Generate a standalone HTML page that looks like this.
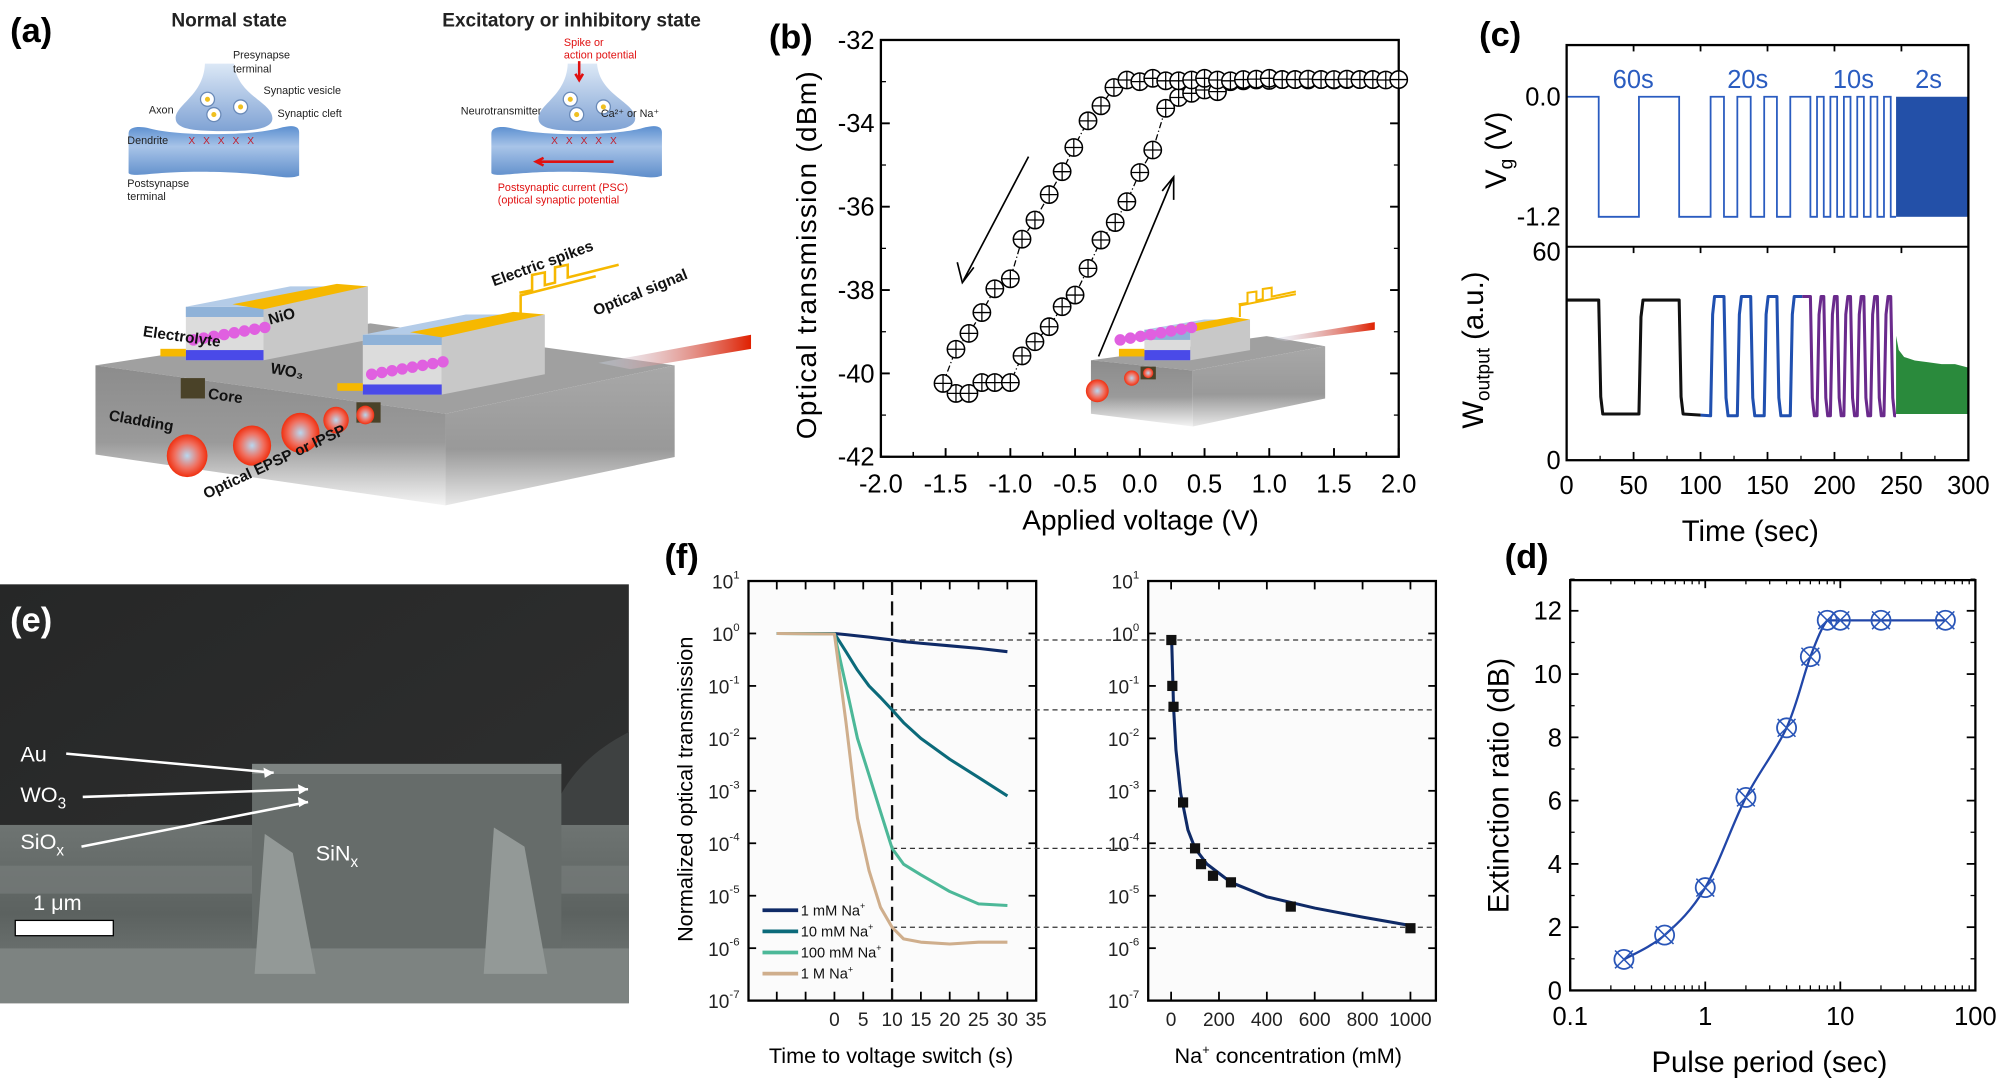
<!DOCTYPE html>
<html><head><meta charset="utf-8"><style>
html,body{margin:0;padding:0;background:#fff;}
svg{display:block;font-family:"Liberation Sans",sans-serif;}
</style></head><body>
<svg id="fig" xmlns="http://www.w3.org/2000/svg" width="1996" height="1084" viewBox="0 0 1568 851.5" preserveAspectRatio="none">
<defs>
<radialGradient id="spot" cx="50%" cy="50%" r="50%"><stop offset="0" stop-color="#b8d8f0"/><stop offset="0.6" stop-color="#f07060"/><stop offset="1" stop-color="#f03010"/></radialGradient>
<linearGradient id="beam" x1="0" x2="1"><stop offset="0" stop-color="#d0e4f8" stop-opacity="0.3"/><stop offset="1" stop-color="#e02000"/></linearGradient>
<linearGradient id="slabL" x1="0" y1="0" x2="0" y2="1"><stop offset="0" stop-color="#8c8c8c"/><stop offset="0.55" stop-color="#9a9a9a"/><stop offset="1" stop-color="#f4f4f4"/></linearGradient>
<linearGradient id="slabR" x1="0" y1="0" x2="0" y2="1"><stop offset="0" stop-color="#a8a8a8"/><stop offset="0.6" stop-color="#999"/><stop offset="1" stop-color="#e8e8e8"/></linearGradient>
<linearGradient id="syn" x1="0" y1="0" x2="0" y2="1"><stop offset="0" stop-color="#dce8f6"/><stop offset="1" stop-color="#7fa2d4"/></linearGradient>
<linearGradient id="post" x1="0" y1="0" x2="0" y2="1"><stop offset="0" stop-color="#5b8fd0"/><stop offset="0.4" stop-color="#a8c4e8"/><stop offset="1" stop-color="#5f8ecb"/></linearGradient>
<linearGradient id="sem" x1="0" y1="0" x2="0" y2="1"><stop offset="0" stop-color="#6e7472"/><stop offset="0.5" stop-color="#5c6260"/><stop offset="1" stop-color="#7a807e"/></linearGradient>
<linearGradient id="semtop" x1="0" y1="0" x2="1" y2="1"><stop offset="0" stop-color="#262727"/><stop offset="1" stop-color="#303131"/></linearGradient>
</defs>
<g id="pa"></g>
<g id="pb"></g>
<g id="pc"></g>
<g id="pd"></g>
<g id="pe"></g>
<g id="pf"></g>
</svg>
<script>
// ---------- data ----------
const bDownV = [-1.52,-1.42,-1.32,-1.22,-1.12,-1.0,-0.91,-0.81,-0.70,-0.60,-0.51,-0.40,-0.30,-0.20,-0.10,0.0,0.1,0.2,0.3,0.4,0.5,0.6,0.7,0.8,0.9,1.0,1.1,1.2,1.3,1.4,1.5,1.6,1.7,1.8,1.9,2.0];
const bDownT = [-40.24,-39.42,-39.04,-38.54,-37.97,-37.73,-36.78,-36.32,-35.71,-35.16,-34.58,-33.94,-33.58,-33.14,-32.96,-33.0,-32.92,-32.98,-32.98,-32.96,-32.92,-32.96,-32.98,-32.95,-32.94,-32.92,-32.95,-32.95,-32.94,-32.95,-32.95,-32.94,-32.95,-32.95,-32.96,-32.95];
const bUpV = [-1.42,-1.32,-1.22,-1.12,-1.0,-0.91,-0.81,-0.70,-0.60,-0.50,-0.40,-0.30,-0.19,-0.10,0.0,0.1,0.2,0.3,0.4,0.5,0.6,0.7,0.8,0.9,1.0,1.1,1.2,1.3,1.4,1.5,1.6,1.7,1.8];
const bUpT = [-40.48,-40.48,-40.22,-40.22,-40.22,-39.58,-39.24,-38.88,-38.4,-38.12,-37.48,-36.8,-36.38,-35.88,-35.18,-34.64,-33.64,-33.38,-33.28,-33.2,-33.24,-33.0,-32.98,-32.96,-32.97,-32.95,-32.95,-32.96,-32.95,-32.96,-32.95,-32.95,-32.95];
const bXTicks = ["-2.0","-1.5","-1.0","-0.5","0.0","0.5","1.0","1.5","2.0"];
const bYTicks = ["-42","-40","-38","-36","-34","-32"];

const cVgToggles = [24,54,84,107.5,117.5,127.5,137.5,147.5,157,167,182,187,192,197,202,207,212,217,222,227,232,237,242];
const cDenseStart = 246, cEnd = 300;
const cWHigh = [45,46,46,46], cWLow = [13,12.5,12.5,12.5];
const cColorBreaks = [0,100,176,246];
const cColors = ["#111111","#2050b0","#6a2a8c","#2a8a3c"];
const cGreenTopT = [246,248,252,260,270,280,290,300];
const cGreenTop = [35,31,29,28,27.5,27,27,26];
const cGreenBottom = 13;
const cXTicks = ["0","50","100","150","200","250","300"];
const cPeriodLabels = ["60s","20s","10s","2s"];

const dPeriod = [0.25,0.5,1,2,4,6,8,10,20,60];
const dRatio = [0.98,1.75,3.25,6.1,8.3,10.55,11.7,11.7,11.7,11.7];
const dYTicks = ["0","2","4","6","8","10","12"];
const dXTicks = ["0.1","1","10","100"];

const fTime = [-10,0,2,4,6,8,10,12,15,20,25,30];
const f1mM = [1,1,0.95,0.9,0.85,0.8,0.75,0.7,0.65,0.58,0.52,0.45];
const f10mM = [1,1,0.45,0.2,0.1,0.06,0.035,0.02,0.01,0.004,0.0018,0.0008];
const f100mM = [1,0.98,0.1,0.01,0.002,0.0004,0.00008,0.00004,0.000025,0.000012,0.000007,0.0000065];
const f1M = [1,0.98,0.02,0.0003,0.00003,0.000006,0.0000025,0.0000015,0.0000013,0.0000012,0.0000013,0.0000013];
const fSeriesNames = ["1 mM Na","10 mM Na","100 mM Na","1 M Na"];
const fSeriesColors = ["#0f2a66","#0b6a7a","#4cb898","#cfae8c"];
const fConc = [1,5,10,50,100,125,175,250,500,1000];
const fConcVal = [0.75,0.1,0.04,0.0006,0.00008,0.00004,0.000024,0.000018,0.0000062,0.0000024];
const fFitConc = [2,5,10,20,40,70,100,150,250,400,600,800,1000];
const fFitVal = [0.8,0.3,0.04,0.006,0.0009,0.00018,0.00008,0.00004,0.000018,0.0000095,0.0000058,0.0000039,0.0000027];
const fGuideVal = [0.75,0.035,0.00008,0.0000025];
const fXTicksL = ["0","5","10","15","20","25","30","35"];
const fXTicksR = ["0","200","400","600","800","1000"];

// ---------- helpers ----------
const NS = "http://www.w3.org/2000/svg";
function mk(parent, tag, attrs, text){
  const e = document.createElementNS(NS, tag);
  for (const k in attrs) e.setAttribute(k, attrs[k]);
  if (text !== undefined) e.textContent = text;
  parent.appendChild(e);
  return e;
}
function lin(d0,d1,r0,r1){return v => r0 + (v-d0)/(d1-d0)*(r1-r0);}
function logs(d0,d1,r0,r1){return v => r0 + (Math.log10(v)-Math.log10(d0))/(Math.log10(d1)-Math.log10(d0))*(r1-r0);}
let el;

// ================= PANEL A =================
const A = document.getElementById('pa');
el = mk(A,'text',{x:8,y:33,'font-size':27,'font-weight':'bold'},'(a)');
 
el = mk(A,'text',{x:180,y:21,'font-size':15,'text-anchor':'middle','font-weight':'bold',fill:'#222'},'Normal state');
 
el = mk(A,'text',{x:449,y:21,'font-size':15,'text-anchor':'middle','font-weight':'bold',fill:'#222'},'Excitatory or inhibitory state');
 
[0,285].forEach((dx,i)=>{
  const g = mk(A,'g',{transform:`translate(${dx},0)`});
  
  
  el = mk(g,'path',{d:'M101,105 C101,99 110,99 118,101 C140,107 200,107 222,100 C230,98 235,99 235,104 L235,138 C225,142 215,136 168,135 C120,134 105,140 101,136Z',fill:'url(#post)'});
   
  el = mk(g,'path',{d:'M161,50 L184,50 C186,75 214,80 214,93 C214,101 200,103 176,103 C150,103 138,101 138,93 C138,82 160,75 161,50Z',fill:'url(#syn)'});
   
  [[163,78],[168,90],[189,84]].forEach(p=>{
    el = mk(g,'circle',{cx:p[0],cy:p[1],r:5.5,fill:'#fff',stroke:'#6a8ab8','stroke-width':1});
     
    mk(g,'circle',{cx:p[0],cy:p[1],r:2,fill:'#f0c020'});
  });
  el = mk(g,'text',{x:148,y:113,'font-size':8,fill:'#c02030','letter-spacing':2},'X X X X X');
   
});
const aLabels = [[183,46,'Presynapse'],[183,57,'terminal'],[207,74,'Synaptic vesicle'],[117,89,'Axon'],[218,92,'Synaptic cleft'],[100,113,'Dendrite'],[100,147,'Postsynapse'],[100,157,'terminal'],[362,90,'Neurotransmitter'],[472,92,'Ca²⁺ or Na⁺']];
aLabels.forEach(l=>{el = mk(A,'text',{x:l[0],y:l[1],'font-size':8.5,fill:'#222'},l[2]);
   });
[[443,36,'Spike or'],[443,46,'action potential'],[391,150,'Postsynaptic current (PSC)'],[391,160,'(optical synaptic potential']].forEach(l=>{
  el = mk(A,'text',{x:l[0],y:l[1],'font-size':8.5,fill:'#e01010'},l[2]);
   });
el = mk(A,'path',{d:'M455,48 L455,62 M452,58 L455,63 L458,58 M482,127 L422,127 M427,124 L421,127 L427,130',stroke:'#e01010','stroke-width':2,fill:'none'});
 
// slab
el = mk(A,'polygon',{points:'75,287 291,254 530,287 350,325',fill:'#a0a0a0'});
 
el = mk(A,'polygon',{points:'75,287 350,325 350,397 75,357',fill:'url(#slabL)'});
 
el = mk(A,'polygon',{points:'350,325 530,287 530,359 350,397',fill:'url(#slabR)'});
 
el = mk(A,'polygon',{points:'470,285 590,263 590,274 495,290',fill:'url(#beam)'});
 
el = mk(A,'rect',{x:142,y:297,width:19,height:16,fill:'#4a4228'});
 
el = mk(A,'rect',{x:280,y:316,width:19,height:16,fill:'#4a4228'});
 
[[147,358,16],[198,350,15],[236,340,15],[264,330,10],[287,326,7]].forEach(c=>{
  el = mk(A,'ellipse',{cx:c[0],cy:c[1],rx:c[2],ry:c[2]*1.05,fill:'url(#spot)'});
   });
function block(g,x0,x1,yt,yb,dx,dy){
  mk(g,'polygon',{points:`${x1},${yt} ${x1+dx},${yt-dy} ${x1+dx},${yb-dy} ${x1},${yb}`,fill:'#c8c8c8'});
  mk(g,'rect',{x:x0,y:yt,width:x1-x0,height:yb-yt,fill:'#dcdcdc'});
  mk(g,'rect',{x:x0,y:yt,width:x1-x0,height:8,fill:'#8fb2d8'});
  mk(g,'rect',{x:x0,y:yb-8,width:x1-x0,height:8,fill:'#4a4ae8'});
  mk(g,'polygon',{points:`${x0},${yt} ${x0+dx},${yt-dy} ${x1+dx},${yt-dy} ${x1},${yt}`,fill:'#b4cce8'});
  mk(g,'polygon',{points:`${x0+(x1-x0)*0.6},${yt-2} ${x0+(x1-x0)*0.6+dx},${yt-dy-2} ${x1+dx},${yt-dy} ${x1},${yt+2}`,fill:'#f6b800'});
  mk(g,'rect',{x:x0-20,y:yb-9,width:20,height:6,fill:'#f6b800'});
  for(let k=0;k<8;k++){mk(g,'circle',{cx:x1-55+k*8,cy:yb-16-k*1.4,r:4.5,fill:'#e060e0'});}
}
el = mk(A,'g',{});  
block(el,146,207,241,283,82,16);
el = mk(A,'g',{});  
block(el,285,347,263,310,81,16);
el = mk(A,'path',{d:'M409,248 L409,232 L468,217 M408,230 L418,228 L418,216 L428,214 L428,224 L436,222 L436,210 L446,208 L446,218 L486,208',stroke:'#f6b800','stroke-width':2,fill:'none'});
 
[[112,264,8,'Electrolyte'],[212,255,-15,'NiO'],[212,293,10,'WO₃'],[163,313,8,'Core'],[85,330,10,'Cladding'],[388,225,-20,'Electric spikes'],[468,248,-22,'Optical signal'],[162,392,-25,'Optical EPSP or IPSP']].forEach(t=>{
  el = mk(A,'text',{x:t[0],y:t[1],'font-size':12,transform:`rotate(${t[2]} ${t[0]} ${t[1]})`,fill:'#111','font-weight':'bold'},t[3]);
   });

// ================= PANEL B =================
const B = document.getElementById('pb');
const bx = lin(-2,2,692,1098.8), by = lin(-42,-32,358.8,31.4);
el = mk(B,'text',{x:604,y:38,'font-size':27,'font-weight':'bold'},'(b)');
 
el = mk(B,'rect',{x:692,y:31.4,width:406.8,height:327.4,fill:'none',stroke:'#000','stroke-width':1.8});
 
bXTicks.forEach((t,i)=>{const v=parseFloat(t),x=bx(v);
  mk(B,'line',{x1:x,x2:x,y1:358.8,y2:352,stroke:'#000','stroke-width':1.5});
  if(i<bXTicks.length-1){const xm=bx(v+0.25);mk(B,'line',{x1:xm,x2:xm,y1:358.8,y2:355,stroke:'#000','stroke-width':1.2});}
  el = mk(B,'text',{x:x,y:387,'font-size':20,'text-anchor':'middle'},t);
   });
bYTicks.forEach((t,i)=>{const v=parseFloat(t),y=by(v);
  mk(B,'line',{x1:692,x2:699,y1:y,y2:y,stroke:'#000','stroke-width':1.5});
  mk(B,'line',{x1:1098.8,x2:1092,y1:y,y2:y,stroke:'#000','stroke-width':1.5});
  if(i<bYTicks.length-1){const ym=by(v+1);mk(B,'line',{x1:692,x2:696,y1:ym,y2:ym,stroke:'#000'});mk(B,'line',{x1:1098.8,x2:1095,y1:ym,y2:ym,stroke:'#000'});}
  el = mk(B,'text',{x:687,y:y+7,'font-size':20,'text-anchor':'end'},t);
   });
el = mk(B,'text',{x:896,y:416,'font-size':22,'text-anchor':'middle'},'Applied voltage (V)');
 
el = mk(B,'text',{x:641,y:200,'font-size':22,'text-anchor':'middle',transform:'rotate(-90 641 200)','letter-spacing':1},'Optical transmission (dBm)');
 
el = mk(B,'g',{});  
mk(el,'polygon',{points:'857,283 995,264 1041,272 937,291',fill:'#a0a0a0'});
mk(el,'polygon',{points:'857,283 937,291 937,335 857,325',fill:'url(#slabL)'});
mk(el,'polygon',{points:'937,291 1041,272 1041,313 937,335',fill:'url(#slabR)'});
mk(el,'polygon',{points:'1000,266 1080,253 1080,259 1010,268',fill:'url(#beam)'});
block(el,899,935,259,283,47,8);
mk(el,'path',{d:'M974,249 L974,240 L1018,231 M973,239 L980,238 L980,230 L987,229 L987,236 L992,235 L992,227 L999,226 L999,233 L1018,229',stroke:'#f6b800','stroke-width':1.6,fill:'none'});
mk(el,'circle',{cx:862,cy:307,r:9,fill:'url(#spot)'});
mk(el,'circle',{cx:889,cy:297,r:6,fill:'url(#spot)'});
mk(el,'rect',{x:896,y:288,width:12,height:10,fill:'#4a4228'});
mk(el,'circle',{cx:902,cy:293,r:4,fill:'url(#spot)'});
function drawB(V,T,name){
  let d=''; V.forEach((v,i)=>{d+=(i?'L':'M')+bx(v).toFixed(1)+','+by(T[i]).toFixed(1);});
  el = mk(B,'path',{d:d,fill:'none',stroke:'#000','stroke-width':1,'stroke-dasharray':'5 2 1 2'});
   
  V.forEach((v,i)=>{const x=bx(v),y=by(T[i]);
    const g = mk(B,'g',{});
     
    mk(g,'circle',{cx:x,cy:y,r:6.8,fill:'#fff',stroke:'#000','stroke-width':1.2});
    mk(g,'path',{d:`M${x-6.8},${y}H${x+6.8}M${x},${y-6.8}V${y+6.8}`,stroke:'#000','stroke-width':1});});
}
drawB(bUpV,bUpT,'forward-sweep');
drawB(bDownV,bDownT,'reverse-sweep');
el = mk(B,'path',{d:'M808,123 L757,220 M752,206 L756,222 L765,210 M863,280 L921,141 M913,150 L922,139 L922,157',stroke:'#000','stroke-width':1.3,fill:'none'});
 

// ================= PANEL C =================
const C = document.getElementById('pc');
const cx = lin(0,300,1230.7,1546.3), cvy = lin(-1.2,0,170.3,76), cwy = lin(0,60,361.5,193.8);
el = mk(C,'text',{x:1162,y:36,'font-size':27,'font-weight':'bold'},'(c)');
 
let state=0, d='M'+cx(0)+','+cvy(0);
cVgToggles.forEach(t=>{d+='H'+cx(t).toFixed(1); state = state===0?-1.2:0; d+='V'+cvy(state).toFixed(1);});
d+='H'+cx(cDenseStart).toFixed(1);
el = mk(C,'path',{d:d,fill:'none',stroke:'#2a5cc0','stroke-width':1.4});
 
el = mk(C,'rect',{x:cx(cDenseStart),y:cvy(0),width:cx(cEnd)-cx(cDenseStart),height:cvy(-1.2)-cvy(0),fill:'#2350a8'});
 
cPeriodLabels.forEach((l,i)=>{
  const tx = [1283,1373,1456,1515][i];
  el = mk(C,'text',{x:tx,y:69,'font-size':20,'text-anchor':'middle',fill:'#2a5cc0'},l);
   });
function segColor(t){let k=0; cColorBreaks.forEach((b,i)=>{if(t>=b)k=i;}); return k;}
let wstate=1, pts=[[0,cWHigh[0]]];
cVgToggles.forEach(t=>{
  const k=segColor(t); const hi=cWHigh[k], lo=cWLow[k];
  const from = wstate?hi:lo, to = wstate?lo:hi;
  pts.push([t,from]); pts.push([t+1.5,(from+to)/2+(to-from)*0.35]); pts.push([t+3,to]);
  wstate=1-wstate;});
pts.push([cDenseStart,cWLow[2]]);
let wd=''; pts.forEach((p,i)=>{wd+=(i?'L':'M')+cx(p[0]).toFixed(1)+','+cwy(p[1]).toFixed(1);});
const defs = document.querySelector('defs');
for(let k=0;k<3;k++){
  const cp = mk(defs,'clipPath',{id:'wclip'+k});
  mk(cp,'rect',{x:cx(cColorBreaks[k]),y:190,width:cx(cColorBreaks[k+1])-cx(cColorBreaks[k]),height:175});
  el = mk(C,'path',{d:wd,fill:'none',stroke:cColors[k],'stroke-width':2.4,'stroke-linejoin':'round','clip-path':`url(#wclip${k})`});
   
}
let gd='M'+cx(cGreenTopT[0])+','+cwy(cGreenBottom);
cGreenTopT.forEach((t,i)=>{gd+='L'+cx(t).toFixed(1)+','+cwy(cGreenTop[i]).toFixed(1);});
gd+='L'+cx(cEnd)+','+cwy(cGreenBottom)+'Z';
el = mk(C,'path',{d:gd,fill:cColors[3]});
 
el = mk(C,'rect',{x:1230.7,y:35.4,width:315.6,height:326.1,fill:'none',stroke:'#000','stroke-width':1.8});
 
el = mk(C,'line',{x1:1230.7,x2:1546.3,y1:193.8,y2:193.8,stroke:'#000','stroke-width':1.6});
 
cXTicks.forEach((t,i)=>{const x=cx(+t);
  [35.4,193.8].forEach(y0=>mk(C,'line',{x1:x,x2:x,y1:y0,y2:y0+5,stroke:'#000','stroke-width':1.4}));
  mk(C,'line',{x1:x,x2:x,y1:361.5,y2:355,stroke:'#000','stroke-width':1.4});
  if(i<cXTicks.length-1){const xm=cx(+t+25);mk(C,'line',{x1:xm,x2:xm,y1:361.5,y2:358,stroke:'#000'});}
  el = mk(C,'text',{x:x,y:388,'font-size':20,'text-anchor':'middle'},t);
   });
[["0.0",cvy(0)],["-1.2",cvy(-1.2)],["60",cwy(60)+4],["0",cwy(0)]].forEach(l=>{
  el = mk(C,'text',{x:1226,y:l[1]+7,'font-size':20,'text-anchor':'end'},l[0]);
   });
el = mk(C,'text',{x:1375,y:425,'font-size':23,'text-anchor':'middle'},'Time (sec)');
 
el = mk(C,'text',{x:1183,y:118,'font-size':23,'text-anchor':'middle',transform:'rotate(-90 1183 118)'});
 
el.innerHTML='V<tspan font-size="15" dy="5">g</tspan><tspan dy="-5"> (V)</tspan>';
el = mk(C,'text',{x:1165,y:275,'font-size':23,'text-anchor':'middle',transform:'rotate(-90 1165 275)'});
 
el.innerHTML='W<tspan font-size="15" dy="5">output</tspan><tspan dy="-5"> (a.u.)</tspan>';

// ================= PANEL D =================
const D = document.getElementById('pd');
const dx = logs(0.1,100,1233.5,1551.8), dy = lin(0,12,778,479.8);
el = mk(D,'text',{x:1182,y:446,'font-size':27,'font-weight':'bold'},'(d)');
 
el = mk(D,'rect',{x:1233.5,y:455.7,width:318.3,height:322.3,fill:'none',stroke:'#000','stroke-width':1.8});
 
dYTicks.forEach((t,i)=>{const y=dy(+t);
  mk(D,'line',{x1:1233.5,x2:1240,y1:y,y2:y,stroke:'#000','stroke-width':1.4});mk(D,'line',{x1:1551.8,x2:1545,y1:y,y2:y,stroke:'#000','stroke-width':1.4});
  const ym=dy(+t+1);mk(D,'line',{x1:1233.5,x2:1237,y1:ym,y2:ym,stroke:'#000'});mk(D,'line',{x1:1551.8,x2:1548,y1:ym,y2:ym,stroke:'#000'});
  el = mk(D,'text',{x:1227,y:y+7,'font-size':20,'text-anchor':'end'},t);
   });
dXTicks.forEach((t,i)=>{const x=dx(+t);
  mk(D,'line',{x1:x,x2:x,y1:778,y2:771,stroke:'#000','stroke-width':1.4});mk(D,'line',{x1:x,x2:x,y1:455.7,y2:462,stroke:'#000','stroke-width':1.4});
  if(i<3)for(let m=2;m<10;m++){const xm=dx(+t*m);mk(D,'line',{x1:xm,x2:xm,y1:778,y2:774,stroke:'#000'});mk(D,'line',{x1:xm,x2:xm,y1:455.7,y2:459,stroke:'#000'});}
  el = mk(D,'text',{x:x,y:805,'font-size':20,'text-anchor':'middle'},t);
   });
el = mk(D,'text',{x:1390,y:842,'font-size':23,'text-anchor':'middle'},'Pulse period (sec)');
 
el = mk(D,'text',{x:1185,y:617,'font-size':23,'text-anchor':'middle',transform:'rotate(-90 1185 617)'},'Extinction ratio (dB)');
 
{ const P = dPeriod.map((p,i)=>[dx(p),dy(dRatio[i])]);
  let dd='M'+P[0][0]+','+P[0][1];
  for(let i=0;i<P.length-1;i++){const p0=P[Math.max(0,i-1)],p1=P[i],p2=P[i+1],p3=P[Math.min(P.length-1,i+2)];
    const c1=[p1[0]+(p2[0]-p0[0])/6,p1[1]+(p2[1]-p0[1])/6], c2=[p2[0]-(p3[0]-p1[0])/6,p2[1]-(p3[1]-p1[1])/6];
    if(i>=6){c1[1]=p1[1];c2[1]=p2[1];}
    dd+=`C${c1[0].toFixed(1)},${c1[1].toFixed(1)} ${c2[0].toFixed(1)},${c2[1].toFixed(1)} ${p2[0].toFixed(1)},${p2[1].toFixed(1)}`;}
  el = mk(D,'path',{d:dd,fill:'none',stroke:'#2146a8','stroke-width':1.8});
   
  P.forEach(p=>{const g=mk(D,'g',{});
     
    mk(g,'circle',{cx:p[0],cy:p[1],r:7.5,fill:'none',stroke:'#2a56b8','stroke-width':1.4});
    mk(g,'path',{d:`M${p[0]-7},${p[1]-7}L${p[0]+7},${p[1]+7}M${p[0]+7},${p[1]-7}L${p[0]-7},${p[1]+7}`,stroke:'#2a56b8','stroke-width':1.2});});
}

// ================= PANEL E =================
const E = document.getElementById('pe');
el = mk(E,'rect',{x:0,y:459,width:494,height:329,fill:'url(#semtop)'});
 
el = mk(E,'path',{d:'M430,648 C440,620 455,595 494,575 L494,648 Z',fill:'#3e4141'});
 
el = mk(E,'rect',{x:0,y:648,width:494,height:140,fill:'url(#sem)'});
 
el = mk(E,'rect',{x:0,y:680,width:494,height:22,fill:'#767c7a',opacity:0.7});
 
el = mk(E,'rect',{x:198,y:602,width:243,height:143,fill:'#666c6a'});
 
el = mk(E,'rect',{x:198,y:600,width:243,height:8,fill:'#7d8381'});
 
el = mk(E,'rect',{x:0,y:745,width:494,height:43,fill:'#7d8381'});
 
[[200,655,238,765],[380,650,420,765]].forEach(r=>{el=mk(E,'polygon',{points:`${r[0]},${r[3]} ${r[0]+8},${r[1]} ${r[2]-8},${r[1]+15} ${r[2]+10},${r[3]}`,fill:'#939997'});
   });
el = mk(E,'text',{x:8,y:496,'font-size':27,'font-weight':'bold',fill:'#fff'},'(e)');
 
[[16,598,'Au'],[16,630,'WO<tspan font-size="12" dy="5">3</tspan>'],[16,667,'SiO<tspan font-size="12" dy="5">x</tspan>'],[248,676,'SiN<tspan font-size="12" dy="5">x</tspan>'],[26,715,'1 μm']].forEach(t=>{
  el = mk(E,'text',{x:t[0],y:t[1],'font-size':17,fill:'#fff'}); el.innerHTML=t[2];
   });
el = mk(E,'rect',{x:12,y:723,width:77,height:12,fill:'#fff',stroke:'#000'});
 
el = mk(E,'path',{d:'M52,592 L215,607 M65,626 L242,620 M64,665 L242,630',stroke:'#fff','stroke-width':2,fill:'none'});
 
[[215,607],[242,620],[242,630]].forEach(a=>{el=mk(E,'polygon',{points:`${a[0]},${a[1]} ${a[0]-8},${a[1]-4} ${a[0]-7},${a[1]+4}`,fill:'#fff'});
   });

// ================= PANEL F =================
const F = document.getElementById('pf');
const fx = lin(0,35,655.5,814), fy = logs(1e-7,10,786,456.4), fxr = lin(0,1000,920,1108);
el = mk(F,'text',{x:522,y:446,'font-size':27,'font-weight':'bold'},'(f)');
 
[[588,814],[902,1128]].forEach((b,j)=>{
  el = mk(F,'rect',{x:b[0],y:456.4,width:b[1]-b[0],height:329.6,fill:'#fbfbfb',stroke:'#000','stroke-width':1.8});
   
  for(let e=-7;e<=1;e++){const y=fy(Math.pow(10,e));
    mk(F,'line',{x1:b[0],x2:b[0]+6,y1:y,y2:y,stroke:'#000','stroke-width':1.4});mk(F,'line',{x1:b[1],x2:b[1]-6,y1:y,y2:y,stroke:'#000','stroke-width':1.4});
    el = mk(F,'text',{x:b[0]-7,y:y+6,'font-size':15,'text-anchor':'end',fill:'#222'});
    el.innerHTML='10<tspan font-size="9" dy="-8">'+e+'</tspan>';
     }
});
fXTicksL.forEach(t=>{const x=fx(+t);
  mk(F,'line',{x1:x,x2:x,y1:786,y2:779,stroke:'#000','stroke-width':1.4});mk(F,'line',{x1:x,x2:x,y1:456.4,y2:463,stroke:'#000','stroke-width':1.4});
  el = mk(F,'text',{x:x,y:806,'font-size':15,'text-anchor':'middle',fill:'#222'},t);
   });
for(let t=-15;t<0;t+=5){const x=fx(t);if(x>590){mk(F,'line',{x1:x,x2:x,y1:786,y2:779,stroke:'#000','stroke-width':1.4});mk(F,'line',{x1:x,x2:x,y1:456.4,y2:463,stroke:'#000','stroke-width':1.4});}}
fXTicksR.forEach(t=>{const x=fxr(+t);
  mk(F,'line',{x1:x,x2:x,y1:786,y2:779,stroke:'#000','stroke-width':1.4});mk(F,'line',{x1:x,x2:x,y1:456.4,y2:463,stroke:'#000','stroke-width':1.4});
  el = mk(F,'text',{x:x,y:806,'font-size':15,'text-anchor':'middle',fill:'#222'},t);
   });
el = mk(F,'text',{x:700,y:835,'font-size':17,'text-anchor':'middle'},'Time to voltage switch (s)');
 
el = mk(F,'text',{x:1012,y:835,'font-size':17,'text-anchor':'middle'}); el.innerHTML='Na<tspan font-size="10" dy="-7">+</tspan><tspan dy="7"> concentration (mM)</tspan>';
 
el = mk(F,'text',{x:544,y:620,'font-size':17,'text-anchor':'middle',transform:'rotate(-90 544 620)'},'Normalized optical transmission');
 
fGuideVal.forEach(v=>{const y=fy(v);
  el = mk(F,'line',{x1:fx(10),x2:1128,y1:y,y2:y,stroke:'#333','stroke-width':1,'stroke-dasharray':'4 3'});
   });
el = mk(F,'line',{x1:fx(10),x2:fx(10),y1:456.4,y2:786,stroke:'#111','stroke-width':1.8,'stroke-dasharray':'11 5'});
 
[f1mM,f10mM,f100mM,f1M].forEach((s,k)=>{
  let dd=''; fTime.forEach((t,i)=>{dd+=(i?'L':'M')+fx(t).toFixed(1)+','+fy(s[i]).toFixed(1);});
  el = mk(F,'path',{d:dd,fill:'none',stroke:fSeriesColors[k],'stroke-width':2.4,'stroke-linejoin':'round'});
   
  const ly = 715+k*16.6;
  el = mk(F,'line',{x1:599,x2:627,y1:ly,y2:ly,stroke:fSeriesColors[k],'stroke-width':3});
   
  el = mk(F,'text',{x:629,y:ly+4,'font-size':11.5,fill:'#111'}); el.innerHTML=fSeriesNames[k]+'<tspan font-size="7" dy="-5">+</tspan>';
   
});
{ let dd=''; fFitConc.forEach((c,i)=>{dd+=(i?'L':'M')+fxr(c).toFixed(1)+','+fy(fFitVal[i]).toFixed(1);});
  el = mk(F,'path',{d:dd,fill:'none',stroke:'#0f2a66','stroke-width':2.4});
   
  fConc.forEach((c,i)=>{el = mk(F,'rect',{x:fxr(c)-4,y:fy(fConcVal[i])-4,width:8,height:8,fill:'#111'});
     });
}
</script>
</body></html>
